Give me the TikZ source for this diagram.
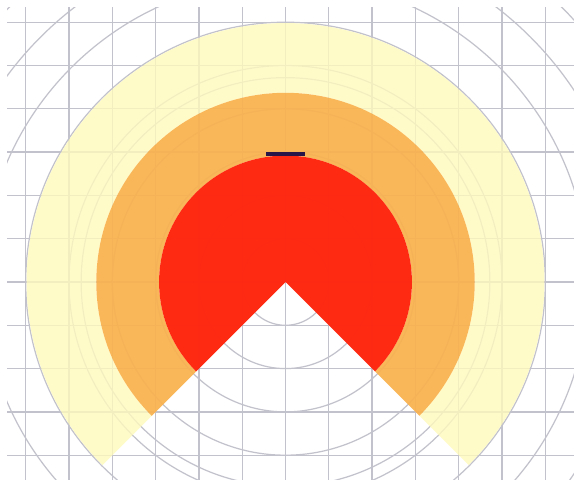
\documentclass[tikz,border=0pt]{standalone}
\usepackage{tikz}
\usepackage{xcolor}
\definecolor{gridgray}{RGB}{194,194,204}
\definecolor{zoneyellow}{RGB}{255,250,188}
\definecolor{zoneorange}{RGB}{250,177,76}
\definecolor{zonered}{RGB}{255,40,16}
\definecolor{barink}{RGB}{40,22,72}
\tikzset{
  gridline/.style={draw=gridgray,line width=0.85pt},
  ringline/.style={draw=gridgray,line width=0.8pt},
  yellowzone/.style={fill=zoneyellow,fill opacity=0.8},
  orangezone/.style={fill=zoneorange,fill opacity=0.92},
  redzone/.style={fill=zonered,fill opacity=0.99},
  markbar/.style={fill=barink}
}
\begin{document}
\begin{tikzpicture}[x=1cm,y=1cm]
    \path[use as bounding box,fill=white] (-6.594,-4.550) rectangle (6.663,6.513);
    \coordinate (apex) at (0,0);
    \begin{scope}
      \clip (-6.43,-4.55) rectangle (6.663,6.33);
      \draw[gridline] (-7,-5) grid[step=1] (7,7);
      \foreach \r in {1,...,9}
        \draw[ringline] (apex) circle[radius=\r];
      \draw[ringline] (apex) circle[radius=4.72];
    \end{scope}
    \path[yellowzone] (225:4.37) arc[start angle=225,end angle=-45,radius=4.37]
      -- (-45:5.98) arc[start angle=-45,end angle=225,radius=5.98] -- cycle;
    \path[orangezone] (225:2.92) arc[start angle=225,end angle=-45,radius=2.92]
      -- (-45:4.37) arc[start angle=-45,end angle=225,radius=4.37] -- cycle;
    \path[redzone] (apex) -- (225:2.92) arc[start angle=225,end angle=-45,radius=2.92]
      -- cycle;
    \path[markbar] (-0.45,2.92) rectangle (0.45,3.01);
  \end{tikzpicture}
\end{document}
